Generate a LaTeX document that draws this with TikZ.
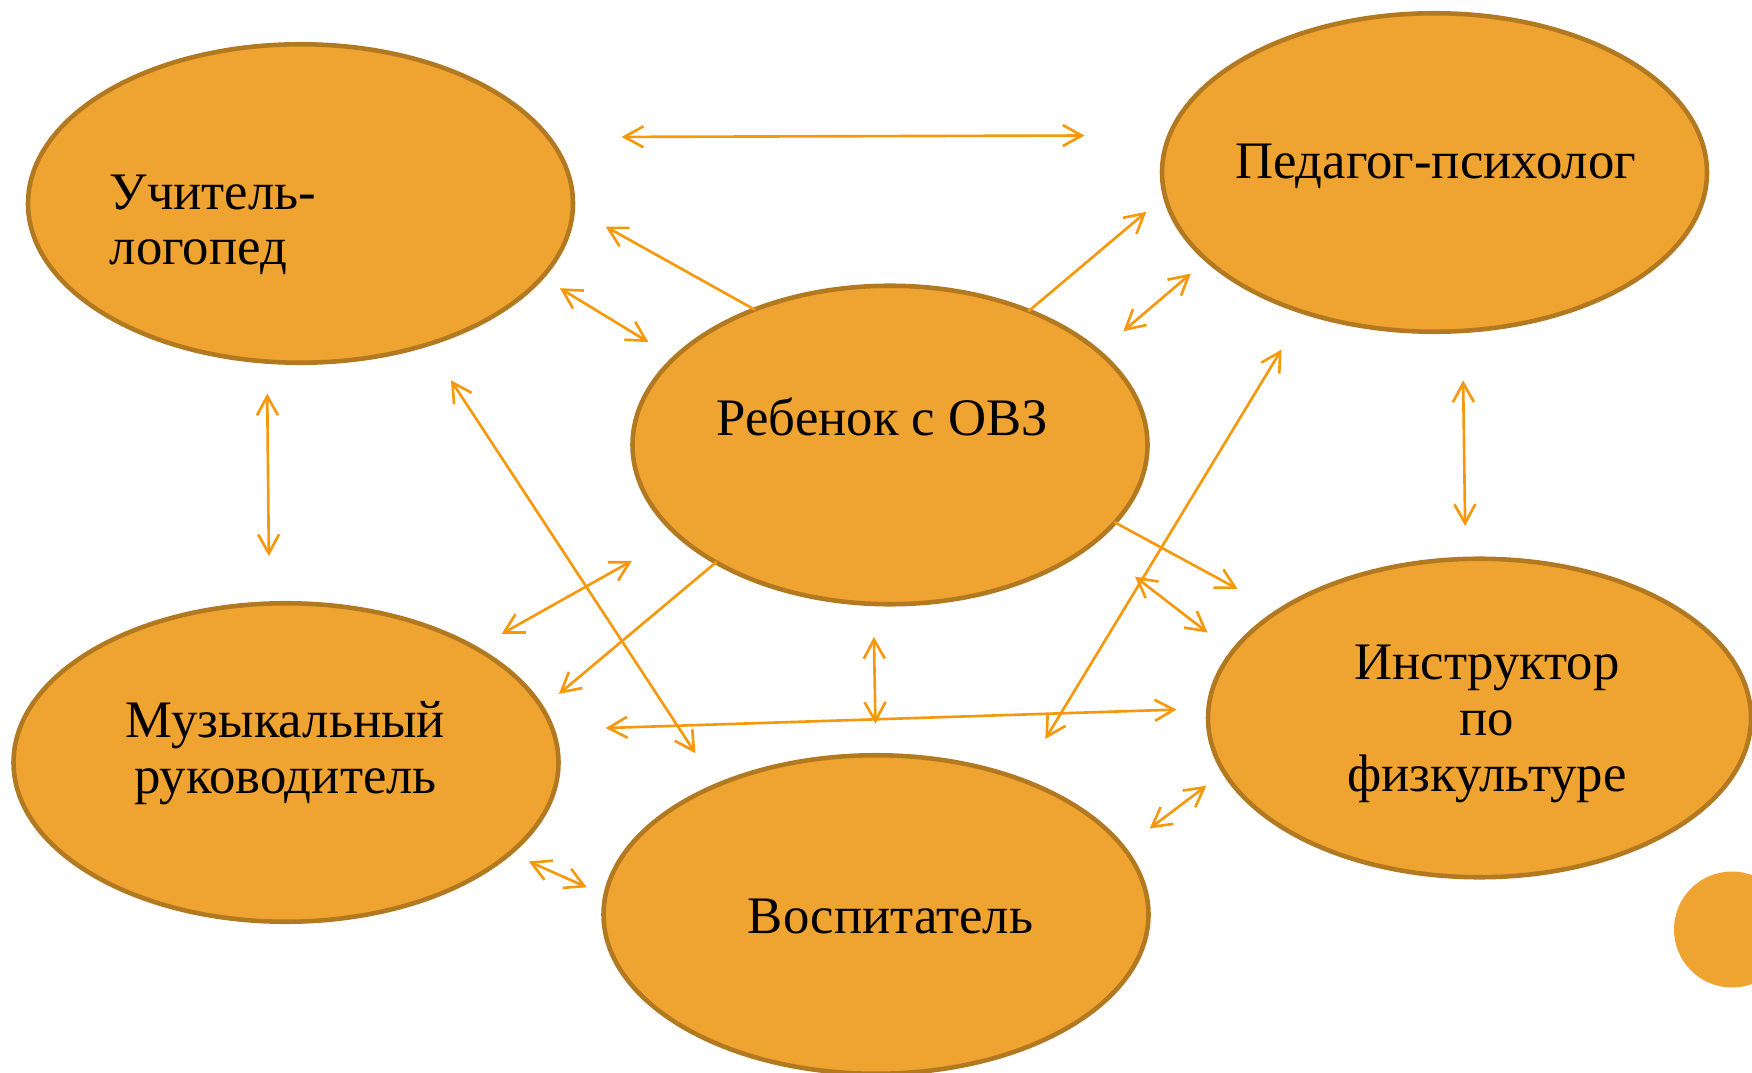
\documentclass[tikz,border=0pt]{standalone}
\usepackage{fontspec}
\setmainfont{Liberation Serif}
\usetikzlibrary{shapes.geometric,arrows.meta}
\definecolor{blobfill}{RGB}{239,163,49}
\definecolor{blobline}{RGB}{178,121,33}
\definecolor{arrowc}{RGB}{245,152,12}
\begin{document}
\begin{tikzpicture}[
blob/.style={ellipse,draw=blobline,fill=blobfill,line width=2.6pt,inner sep=0pt,outer sep=0pt,minimum height=6.37cm},
link/.style={{Straight Barb[length=3.8mm,width=4.2mm]}-{Straight Barb[length=3.8mm,width=4.2mm]},draw=arrowc,line width=1.5pt,line cap=round},
flow/.style={-{Straight Barb[length=3.8mm,width=4.2mm]},draw=arrowc,line width=1.5pt,line cap=round},
lbl/.style={font={\fontsize{30}{31.75}\selectfont},inner sep=0pt,anchor=base}
]
\useasboundingbox (0,0) rectangle (35.04,-21.46);

%Speech therapist
\node[blob,minimum width=10.9cm] (logo) at (6.01,-4.07){};

%Psychologist
\node[blob,minimum width=10.9cm] (psy) at (28.69,-3.45){};

%Child
\node[blob,minimum width=10.3cm] (child) at (17.80,-8.90){};

%Music
\node[blob,minimum width=10.9cm] (music) at (5.72,-15.25){};

%Educator
\node[blob,minimum width=10.9cm] (educ) at (17.52,-18.29){};

%Sport
\node[blob,minimum width=10.86cm] (sport) at (29.59,-14.36){};

%Corner dot
\node[circle,fill=blobfill,minimum size=2.32cm,inner sep=0pt] (dot) at (34.64,-18.59){};


%Labels (base = last line)
\node[lbl,anchor=base west,align=left] (logo-t) at (2.19,-5.30){Учитель-\\логопед};
\node[lbl] (psy-t) at (28.71,-3.58){Педагог-психолог};
\node[lbl] (child-t) at (17.65,-8.72){Ребенок с ОВЗ};
\node[lbl,align=center] (music-t) at (5.71,-15.87){Музыкальный\\руководитель};
\node[lbl] (educ-t) at (17.81,-18.66){Воспитатель};
\node[lbl,align=center] (sport-t) at (29.74,-15.82){Инструктор\\по\\физкультуре};


%%%%%%%%%%%%%%%%%Links%%%%%%%%%%%%%%
\draw[link,shorten <=1.47cm,shorten >=1.70cm] (logo.15.2) -- (psy.172.3);
\draw[flow,shorten >=0.75cm] (child.135.7) -- (logo.359);
\draw[link,shorten <=0.42cm,shorten >=0.61cm] (logo.343.1) -- (child.158.9);
\draw[flow,shorten >=0.49cm] (child.44.7) -- (psy.185.2);
\draw[link,shorten <=0.64cm,shorten >=0.42cm] (child.24.9) -- (psy.201.2);
\draw[link,shorten <=0.64cm,shorten >=0.95cm] (logo.258.8) -- (music.96.0);
\draw[link,shorten <=0.86cm,shorten >=0.77cm] (logo.312.6) -- (educ.141.8);
\draw[link,shorten <=0.59cm,shorten >=1.05cm] (music.31.3) -- (child.203.2);
\draw[flow,shorten >=0.44cm] (child.214.8) -- (music.12.1);
\draw[link,shorten <=0.66cm,shorten >=0.63cm] (child.264.9) -- (educ.90);
\draw[link,shorten <=1.06cm,shorten >=0.64cm] (music.7.7) -- (sport.178.0);
\draw[link,shorten <=0.87cm,shorten >=0.95cm] (psy.227.4) -- (educ.43.5);
\draw[flow,shorten >=0.93cm] (child.341.8) -- (sport.152.5);
\draw[link,shorten <=1.08cm,shorten >=0.63cm] (child.334.2) -- (sport.165.4);
\draw[link,shorten <=0.99cm,shorten >=0.66cm] (psy.280.9) -- (sport.95.3);
\draw[link,shorten <=0.65cm,shorten >=0.45cm] (educ.15.0) -- (sport.192.2);
\draw[link,shorten <=0.41cm,shorten >=0.41cm] (music.338.3) -- (educ.176.9);

\end{tikzpicture}
\end{document}
